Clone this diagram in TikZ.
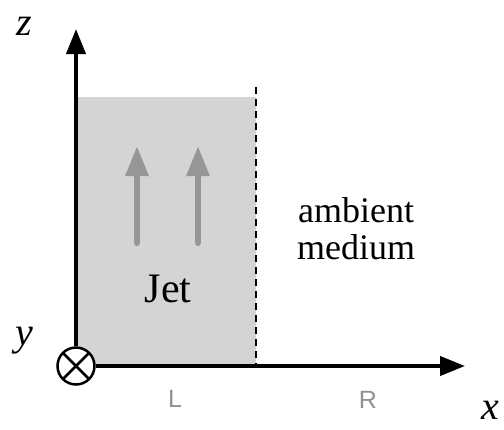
\documentclass[tikz,border=0pt]{standalone}
\usepackage{fontspec}
\setmainfont{Liberation Serif}
\newfontfamily\labelsans{Liberation Sans}
\usetikzlibrary{arrows.meta}
\definecolor{jetfill}{RGB}{212,212,212}
\definecolor{flowgray}{RGB}{150,150,150}
\definecolor{lrgray}{RGB}{145,145,145}
\begin{document}
\begin{tikzpicture}[x=1pt,y=-1pt,
  axis/.style={line width=4pt,-{Triangle[length=25pt,width=19pt]}},
  flow/.style={line width=6pt,flowgray,line cap=round,-{Triangle[length=30pt,width=22pt]}},
  axislabel/.style={font=\fontsize{40}{40}\selectfont\itshape,inner sep=0pt},
  bodytext/.style={font=\fontsize{36}{37}\selectfont,align=center,inner sep=0pt},
  sidelabel/.style={font=\fontsize{25}{25}\selectfont\labelsans,text=lrgray,inner sep=0pt},
  origin/.style={draw,circle,line width=2.5pt,minimum size=37pt,inner sep=0pt,fill=white,
    path picture={\draw[line width=2.5pt] (path picture bounding box.north west) -- (path picture bounding box.south east)
      (path picture bounding box.north east) -- (path picture bounding box.south west);}}
]
\useasboundingbox (0,0) rectangle (504,429);
% jet region
\fill[jetfill] (76,97) rectangle (256,365);
% boundary
\coordinate (btop) at (256,87);
\coordinate (bbot) at (256,365);
\draw[line width=2.4pt,dash pattern=on 7pt off 5pt] (btop) -- (bbot);
% flow arrows
\coordinate (f1a) at (137,243); \coordinate (f1b) at (137,146);
\coordinate (f2a) at (198,243); \coordinate (f2b) at (198,146);
\draw[flow] (f1a) -- (f1b);
\draw[flow] (f2a) -- (f2b);
% axes
\node[origin] (o) at (76,366) {};
\coordinate (ztip) at (76,29);
\coordinate (xtip) at (465,366);
\draw[axis] (o.north) -- (ztip);
\draw[axis] (o.east) -- (xtip);
% labels
\node[axislabel] (zl) at (24,26) {z};
\node[axislabel] (yl) at (24,341) {y};
\node[axislabel] (xl) at (490,410) {x};
\node[bodytext,font=\fontsize{42}{42}\selectfont] (jet) at (168,289) {Jet};
\node[bodytext] (amb) at (356,229) {ambient\\medium};
\node[sidelabel] (L) at (175,399) {L};
\node[sidelabel] (R) at (368,400) {R};
\end{tikzpicture}
\end{document}
